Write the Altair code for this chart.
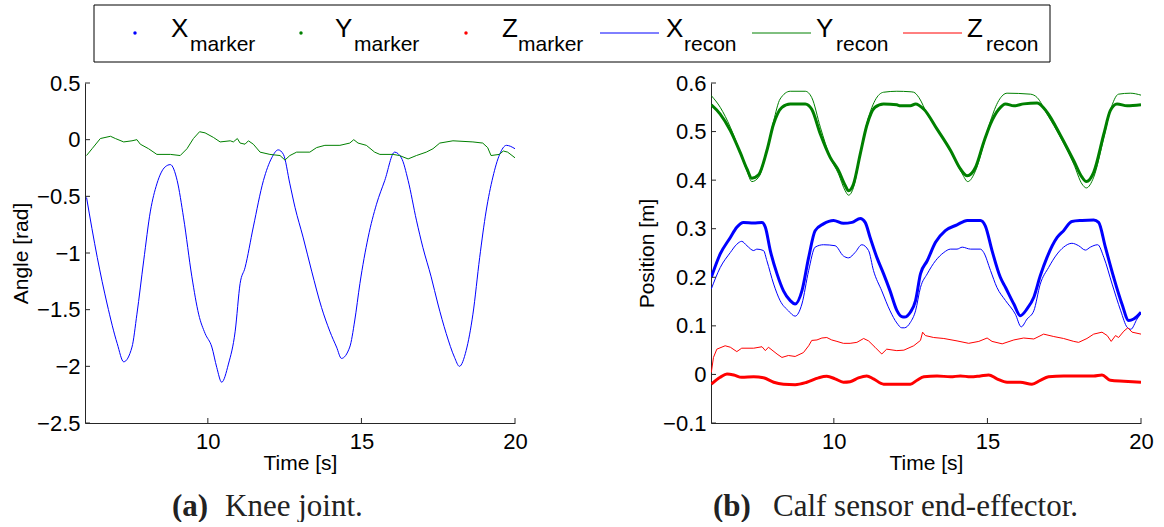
import altair as alt
import pandas as pd

# ---------------- data ----------------
# (a) Knee joint: angle [rad] vs time [s]
KNEE_X_RECON = [(6.05,-0.51),(6.4,-1.04),(6.72,-1.45),(7.05,-1.80),(7.26,-1.96),(7.53,-1.83),(7.69,-1.54),
    (7.91,-1.07),(8.13,-0.63),(8.34,-0.39),(8.61,-0.24),(8.78,-0.22),(9.0,-0.36),(9.21,-0.69),(9.48,-1.21),
    (9.70,-1.54),(9.91,-1.71),(10.13,-1.83),(10.29,-2.01),(10.45,-2.14),(10.67,-1.98),(10.89,-1.69),
    (11.05,-1.27),(11.21,-1.13),(11.48,-0.77),(11.81,-0.36),(12.08,-0.16),(12.29,-0.09),(12.46,-0.13),
    (12.67,-0.39),(12.84,-0.60),(13.1,-0.86),(13.38,-1.16),(13.7,-1.48),(13.97,-1.69),(14.19,-1.83),
    (14.35,-1.93),(14.62,-1.83),(14.78,-1.60),(14.95,-1.27),(15.22,-0.86),(15.49,-0.57),(15.76,-0.36),
    (16.08,-0.11),(16.30,-0.16),(16.52,-0.36),(16.79,-0.71),(17.0,-0.95),(17.27,-1.21),(17.49,-1.45),
    (17.76,-1.71),(18.03,-1.92),(18.19,-2.0),(18.41,-1.86),(18.63,-1.54),(18.85,-1.04),(19.06,-0.63),
    (19.28,-0.33),(19.5,-0.13),(19.72,-0.05),(20.0,-0.08)]
KNEE_Y_RECON = [(6.05,-0.14),(6.23,-0.08),(6.5,0.01),(6.83,0.03),(6.99,0.01),(7.26,-0.02),(7.53,-0.01),
    (7.69,0.0),(7.80,-0.04),(8.07,-0.08),(8.34,-0.13),(8.78,-0.13),(9.1,-0.14),(9.32,-0.08),(9.53,0.01),
    (9.73,0.07),(9.91,0.06),(10.18,0.02),(10.40,-0.02),(10.73,-0.01),(10.83,-0.02),(10.96,0.01),
    (11.05,-0.03),(11.21,-0.04),(11.32,-0.01),(11.48,-0.04),(11.70,-0.11),(12.02,-0.13),(12.35,-0.14),
    (12.51,-0.18),(12.67,-0.14),(12.89,-0.11),(13.32,-0.11),(13.54,-0.07),(13.81,-0.05),(14.30,-0.05),
    (14.62,-0.03),(14.75,0.0),(14.89,-0.03),(15.16,-0.05),(15.43,-0.11),(15.6,-0.13),(16.03,-0.13),
    (16.24,-0.14),(16.52,-0.17),(16.79,-0.14),(17.11,-0.11),(17.33,-0.08),(17.55,-0.03),(17.98,-0.01),
    (18.63,-0.02),(18.95,-0.03),(19.11,-0.07),(19.22,-0.14),(19.49,-0.13),(19.62,-0.10),(19.76,-0.11),
    (20.0,-0.16)]

# (b) Calf sensor end-effector: position [m] vs time [s]
CALF_Y_RECON = [(6.01,0.574),(6.30,0.550),(6.63,0.509),(6.95,0.457),(7.17,0.419),(7.33,0.397),(7.55,0.406),
    (7.82,0.461),(8.04,0.522),(8.25,0.567),(8.58,0.583),(9.07,0.583),(9.28,0.570),(9.56,0.509),(9.88,0.447),
    (10.15,0.413),(10.37,0.378),(10.48,0.369),(10.64,0.385),(10.86,0.454),(11.07,0.516),(11.34,0.564),
    (11.62,0.581),(12.05,0.583),(12.48,0.582),(12.60,0.581),(12.77,0.570),(13.04,0.536),(13.47,0.495),
    (13.90,0.447),(14.18,0.413),(14.36,0.397),(14.61,0.419),(14.88,0.474),(15.10,0.522),(15.37,0.564),
    (15.64,0.579),(16.40,0.577),(16.62,0.570),(16.94,0.536),(17.38,0.488),(17.81,0.433),(18.08,0.392),
    (18.22,0.384),(18.46,0.406),(18.79,0.488),(19.0,0.543),(19.27,0.577),(19.65,0.579),(20.0,0.575)]
CALF_Y_MARKER = [(6.01,0.555),(6.30,0.536),(6.63,0.502),(6.95,0.457),(7.17,0.423),(7.33,0.404),(7.55,0.411),
    (7.82,0.461),(8.04,0.516),(8.31,0.550),(8.58,0.557),(9.07,0.557),(9.28,0.546),(9.56,0.495),(9.88,0.447),
    (10.15,0.420),(10.37,0.389),(10.48,0.378),(10.64,0.392),(10.86,0.454),(11.07,0.512),(11.34,0.550),
    (11.62,0.557),(12.05,0.555),(12.17,0.553),(12.49,0.553),(12.66,0.557),(12.93,0.546),(13.36,0.505),
    (13.80,0.461),(14.12,0.423),(14.34,0.409),(14.61,0.426),(14.88,0.478),(15.10,0.516),(15.37,0.546),
    (15.59,0.557),(15.86,0.553),(16.18,0.557),(16.62,0.559),(16.94,0.540),(17.38,0.492),(17.81,0.440),
    (18.08,0.406),(18.22,0.397),(18.46,0.416),(18.79,0.495),(19.0,0.543),(19.22,0.557),(19.55,0.553),
    (20.0,0.555)]
CALF_X_MARKER = [(6.01,0.200),(6.30,0.248),(6.63,0.282),(6.84,0.303),(7.06,0.313),(7.39,0.312),(7.66,0.313),
    (7.77,0.303),(7.93,0.255),(8.15,0.207),(8.36,0.172),(8.58,0.152),(8.74,0.145),(8.96,0.172),(9.18,0.241),
    (9.39,0.296),(9.66,0.310),(9.99,0.317),(10.31,0.311),(10.59,0.313),(10.86,0.321),(11.02,0.313),
    (11.18,0.282),(11.40,0.241),(11.62,0.207),(11.83,0.172),(12.05,0.132),(12.21,0.119),(12.30,0.118),
    (12.49,0.128),(12.66,0.152),(12.82,0.207),(13.04,0.234),(13.31,0.272),(13.63,0.296),(14.01,0.308),
    (14.34,0.317),(14.77,0.317),(14.93,0.306),(15.15,0.255),(15.42,0.200),(15.59,0.179),(15.86,0.145),
    (16.07,0.121),(16.29,0.135),(16.51,0.159),(16.72,0.203),(16.94,0.241),(17.27,0.282),(17.48,0.296),
    (17.75,0.315),(18.08,0.317),(18.46,0.318),(18.62,0.313),(18.84,0.262),(19.11,0.200),(19.38,0.145),
    (19.60,0.111),(19.76,0.114),(20.0,0.128)]
CALF_X_RECON = [(6.01,0.176),(6.30,0.220),(6.63,0.251),(6.84,0.268),(7.0,0.274),(7.17,0.265),(7.39,0.255),
    (7.49,0.258),(7.71,0.255),(7.82,0.234),(8.04,0.186),(8.25,0.152),(8.52,0.131),(8.74,0.120),(8.96,0.145),
    (9.18,0.214),(9.39,0.262),(9.66,0.267),(10.04,0.265),(10.31,0.244),(10.48,0.240),(10.69,0.251),
    (10.91,0.267),(11.13,0.255),(11.29,0.214),(11.56,0.172),(11.83,0.131),(12.05,0.106),(12.21,0.096),
    (12.30,0.096),(12.49,0.107),(12.66,0.131),(12.82,0.179),(13.04,0.207),(13.31,0.234),(13.58,0.251),
    (13.80,0.258),(14.01,0.258),(14.18,0.262),(14.45,0.258),(14.77,0.258),(14.88,0.251),(15.10,0.214),
    (15.31,0.179),(15.59,0.152),(15.91,0.124),(16.10,0.098),(16.29,0.114),(16.51,0.131),(16.72,0.186),
    (16.99,0.220),(17.27,0.248),(17.48,0.262),(17.75,0.270),(17.97,0.265),(18.19,0.256),(18.35,0.262),
    (18.59,0.267),(18.79,0.241),(19.06,0.186),(19.34,0.131),(19.55,0.097),(19.67,0.093),(19.87,0.114),
    (20.0,0.126)]
CALF_Z_RECON = [(6.01,0.004),(6.08,0.035),(6.19,0.052),(6.46,0.059),(6.63,0.056),(6.84,0.047),(7.0,0.054),
    (7.39,0.054),(7.66,0.057),(7.77,0.049),(7.87,0.056),(8.15,0.042),(8.31,0.035),(8.52,0.039),(8.74,0.037),
    (9.01,0.045),(9.18,0.059),(9.28,0.070),(9.45,0.071),(9.61,0.075),(9.77,0.076),(9.93,0.071),(10.10,0.068),
    (10.31,0.064),(10.53,0.064),(10.75,0.066),(10.97,0.074),(11.13,0.069),(11.34,0.056),(11.56,0.042),
    (11.72,0.052),(12.05,0.049),(12.28,0.050),(12.60,0.059),(12.82,0.070),(12.89,0.087),(12.98,0.080),
    (13.25,0.076),(13.58,0.074),(14.01,0.069),(14.39,0.064),(14.72,0.068),(14.99,0.075),(15.15,0.068),
    (15.48,0.063),(15.86,0.071),(16.18,0.075),(16.51,0.073),(16.83,0.083),(17.16,0.078),(17.48,0.074),
    (17.81,0.068),(17.97,0.066),(18.24,0.074),(18.46,0.083),(18.73,0.087),(18.90,0.080),(19.03,0.068),
    (19.17,0.080),(19.27,0.076),(19.44,0.089),(19.57,0.096),(19.71,0.087),(20.0,0.083)]
CALF_Z_MARKER = [(6.01,-0.020),(6.30,-0.006),(6.52,0.001),(6.74,-0.001),(7.0,-0.006),(7.39,-0.005),
    (7.71,-0.007),(8.04,-0.016),(8.36,-0.020),(8.74,-0.021),(9.12,-0.016),(9.50,-0.007),(9.77,-0.004),
    (10.04,-0.009),(10.31,-0.016),(10.53,-0.015),(10.80,-0.007),(11.07,-0.003),(11.29,-0.009),(11.62,-0.020),
    (12.05,-0.020),(12.49,-0.020),(12.71,-0.012),(12.93,-0.005),(13.36,-0.003),(13.80,-0.005),(14.12,-0.003),
    (14.45,-0.005),(14.77,-0.003),(15.04,-0.001),(15.31,-0.009),(15.64,-0.016),(16.07,-0.016),(16.45,-0.020),
    (16.72,-0.012),(16.99,-0.005),(17.48,-0.003),(18.02,-0.003),(18.46,-0.003),(18.73,-0.001),(19.0,-0.012),
    (19.44,-0.014),(20.0,-0.016)]

KNEE_Y_TICKS = [-2.5, -2, -1.5, -1, -0.5, 0, 0.5]
CALF_Y_TICKS = [-0.1, 0, 0.1, 0.2, 0.3, 0.4, 0.5, 0.6]
X_TICKS = [10, 15, 20]

LEG_LETTERS = ["X", "Y", "Z", "X", "Y", "Z"]
LEG_SUBS = ["marker", "marker", "marker", "recon", "recon", "recon"]

# ---------------- styles / layout ----------------
BLUE, GREEN, RED = "#0000ff", "#008000", "#ff0000"
LEG_COLORS = [BLUE, GREEN, RED, BLUE, GREEN, RED]
AX = "#262626"
SANS = "Liberation Sans"
SERIF = "Liberation Serif"
W, H = 430, 340
FS = 22


def xenc():
    return alt.X("t:Q", scale=alt.Scale(domain=[6, 20], nice=False, zero=False),
                 axis=alt.Axis(values=X_TICKS, title="Time [s]", format="~g", ticks=False, grid=False,
                               domainColor=AX, domainWidth=1, labelFont=SANS, labelFontSize=FS,
                               labelColor="black", labelPadding=8, titleFont=SANS, titleFontSize=21,
                               titleFontWeight="normal", titleColor="black", titlePadding=0,
                               labelFlush=False))


def yenc(dom, ticks, title):
    return alt.Y("v:Q", scale=alt.Scale(domain=dom, nice=False, zero=False),
                 axis=alt.Axis(values=ticks, title=title, format="~g", ticks=False, grid=False,
                               domainColor=AX, domainWidth=1, labelFont=SANS, labelFontSize=FS,
                               labelColor="black", labelPadding=5, titleFont=SANS, titleFontSize=21,
                               titleFontWeight="normal", titleColor="black", titlePadding=5))


def line(pairs, color, width, dom, ticks, title, interp="monotone"):
    df = pd.DataFrame(pairs, columns=["t", "v"])
    return alt.Chart(df).mark_line(color=color, strokeWidth=width, interpolate=interp, clip=True).encode(
        x=xenc(), y=yenc(dom, ticks, title))


def tick_layers(dom, ticks, title):
    ydf = pd.DataFrame({"v": ticks})
    xdf = pd.DataFrame({"t": X_TICKS})
    yt = alt.Chart(ydf).mark_rule(color=AX, strokeWidth=1).encode(
        y=yenc(dom, ticks, title), x=alt.value(0), x2=alt.value(5))
    xt = alt.Chart(xdf).mark_rule(color=AX, strokeWidth=1).encode(
        x=xenc(), y=alt.value(H), y2=alt.value(H - 5))
    return [yt, xt]


def caption(tag, text, x_tag, x_text):
    df = pd.DataFrame({"c": [0]})
    a = alt.Chart(df).mark_text(font=SERIF, fontSize=31, fontWeight="bold", align="left",
                                baseline="alphabetic", color="#222").encode(
        x=alt.value(x_tag), y=alt.value(H + 93), text=alt.value(tag))
    b = alt.Chart(df).mark_text(font=SERIF, fontSize=31, align="left",
                                baseline="alphabetic", color="#222").encode(
        x=alt.value(x_text), y=alt.value(H + 93), text=alt.value(text))
    return [a, b]


kd, kt, ktitle = [-2.5, 0.5], KNEE_Y_TICKS, "Angle [rad]"
left = alt.layer(
    line(KNEE_X_RECON, BLUE, 1, kd, kt, ktitle),
    line(KNEE_Y_RECON, GREEN, 1, kd, kt, ktitle, "linear"),
    *tick_layers(kd, kt, ktitle),
    *caption("(a)", "Knee joint.", 87, 140),
).properties(width=W, height=H)

cd, ct, ctitle = [-0.1, 0.6], CALF_Y_TICKS, "Position [m]"
right = alt.layer(
    line(CALF_X_MARKER, BLUE, 3, cd, ct, ctitle),
    line(CALF_Y_MARKER, GREEN, 3, cd, ct, ctitle),
    line(CALF_Z_MARKER, RED, 3, cd, ct, ctitle),
    line(CALF_X_RECON, BLUE, 1, cd, ct, ctitle),
    line(CALF_Y_RECON, GREEN, 1, cd, ct, ctitle),
    line(CALF_Z_RECON, RED, 1, cd, ct, ctitle, "linear"),
    *tick_layers(cd, ct, ctitle),
    *caption("(b)", "Calf sensor end-effector.", 2, 62),
).properties(width=W, height=H)

# ---------------- legend (MATLAB style, with subscripts) ----------------
LW, LH = 966, 57
LEG_LETTER_X = [86, 250, 417, 581, 731, 882]
LEG_SUB_DX = [19, 19, 16, 18, 20, 19]
LEG_SYMBOL_X = [50, 216, 381, 515, 667, 818]
LEG_LINE_LEN = 59

leg = pd.DataFrame({
    "letter": LEG_LETTERS, "sub": LEG_SUBS, "color": LEG_COLORS,
    "lx": LEG_LETTER_X,
    "sx": [a + b for a, b in zip(LEG_LETTER_X, LEG_SUB_DX)],
    "px": LEG_SYMBOL_X,
    "px2": [p + LEG_LINE_LEN for p in LEG_SYMBOL_X],
    "kind": ["marker"] * 3 + ["recon"] * 3,
})
leg["ly"] = 32
leg["sy"] = 46
leg["my"] = 28

box = alt.Chart(pd.DataFrame({"c": [0]})).mark_rect(fill="white", stroke="black", strokeWidth=1).encode(
    x=alt.value(9), x2=alt.value(965), y=alt.value(0), y2=alt.value(LH))
dots = alt.Chart(leg).transform_filter(alt.datum.kind == "marker").mark_circle(size=12, opacity=1).encode(
    x=alt.X("px:Q", scale=None), y=alt.Y("my:Q", scale=None), color=alt.Color("color:N", scale=None))
segs = alt.Chart(leg).transform_filter(alt.datum.kind == "recon").mark_rule(strokeWidth=1).encode(
    x=alt.X("px:Q", scale=None), x2="px2:Q", y=alt.Y("my:Q", scale=None),
    color=alt.Color("color:N", scale=None))
letters = alt.Chart(leg).mark_text(font=SANS, fontSize=26, align="left", baseline="alphabetic",
                                   color="black").encode(
    x=alt.X("lx:Q", scale=None), y=alt.Y("ly:Q", scale=None), text="letter:N")
subs = alt.Chart(leg).mark_text(font=SANS, fontSize=21, align="left", baseline="alphabetic",
                                color="black").encode(
    x=alt.X("sx:Q", scale=None), y=alt.Y("sy:Q", scale=None), text="sub:N")
legend = alt.layer(box, dots, segs, letters, subs).properties(width=LW, height=LH)

chart = alt.vconcat(
    legend,
    alt.hconcat(left, right, spacing=196, bounds="flush"),
    spacing=21, bounds="flush",
).properties(
    padding={"left": 10, "top": 4, "right": 0, "bottom": 0},
    background="white",
).configure_view(stroke=None)

chart.save("out.html", embed_options={"renderer": "svg", "actions": False})
